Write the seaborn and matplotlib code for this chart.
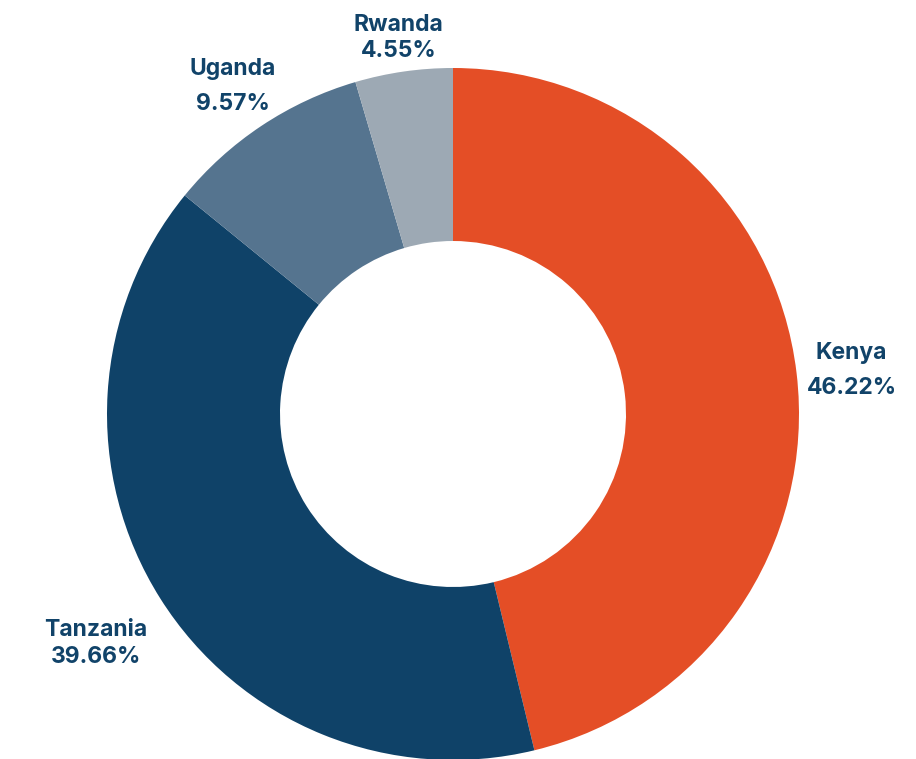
import numpy as np
import matplotlib
matplotlib.use("Agg")
import matplotlib.pyplot as plt
import seaborn as sns

# data
countries = ["Kenya", "Tanzania", "Uganda", "Rwanda"]
shares = [46.22, 39.66, 9.57, 4.55]
colors = ["#E44E26", "#0F4268", "#55748F", "#9DA9B4"]

# label placement (distance in radii, gap between the two lines in px)
label_dist = [1.16, 1.22, 1.15, 1.11]
line_gap = [35, 27, 35, 26]

sns.set_theme(style="white")
plt.rcParams["font.family"] = ["Inter", "DejaVu Sans"]

fig = plt.figure(figsize=(9.16, 7.59), dpi=100)
ax = fig.add_axes([0, 0, 1, 1])

ax.pie(shares, colors=colors, startangle=90, counterclock=False,
       wedgeprops=dict(width=0.5, linewidth=0))

px = 1 / 346.0
total = sum(shares)
start = 90.0
for name, val, d, gap in zip(countries, shares, label_dist, line_gap):
    mid = np.deg2rad(start - val / total * 360 / 2)
    start -= val / total * 360
    x, y = d * np.cos(mid), d * np.sin(mid) - 4 * px
    ax.text(x, y + gap / 2 * px, name, ha="center", va="center",
            fontsize=16.5, fontweight="bold", color="#114369")
    ax.text(x, y - gap / 2 * px, f"{val:.2f}%", ha="center", va="center",
            fontsize=16.5, fontweight="bold", color="#114369")

ax.set_xlim(-453 / 346, (916 - 453) / 346)
ax.set_ylim(-(759 - 414) / 346, 414 / 346)
ax.set_aspect("auto")
ax.axis("off")

fig.savefig("out.png", dpi=100)
